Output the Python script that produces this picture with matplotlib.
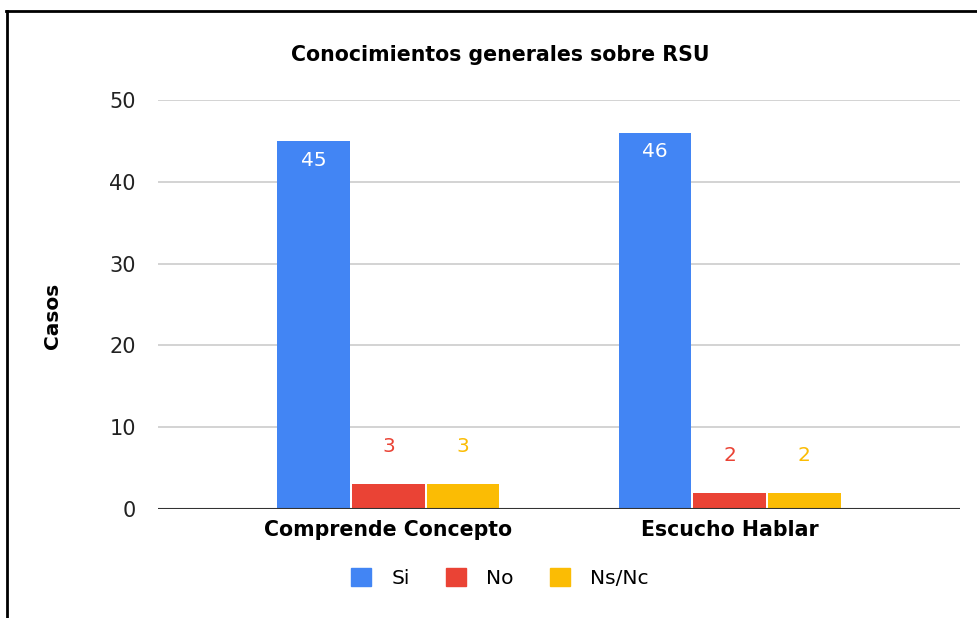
import matplotlib.pyplot as plt
import numpy as np
from matplotlib.patches import Patch
from matplotlib.lines import Line2D

plt.rcParams["font.family"] = ["DejaVu Sans"]

categories = ["Comprende Concepto", "Escucho Hablar"]
series = ["Si", "No", "Ns/Nc"]
values = {
    "Si": [45, 46],
    "No": [3, 2],
    "Ns/Nc": [3, 2],
}
colors = {"Si": "#4285f4", "No": "#ea4335", "Ns/Nc": "#fbbc04"}

fig = plt.figure(figsize=(9.78, 6.18), dpi=100)
ax = fig.add_axes([158 / 978, 1 - 509 / 618, 802 / 978, 409 / 618])

x = np.arange(len(categories))
width = 0.213
offsets = [-0.219, 0, 0.219]

for name, off in zip(series, offsets):
    bars = ax.bar(x + off, values[name], width, color=colors[name], zorder=3)
    for rect, v in zip(bars, values[name]):
        cx = rect.get_x() + rect.get_width() / 2
        if v > 10:
            ax.annotate(str(v), (cx, v), xytext=(0, -7), textcoords="offset points",
                        ha="center", va="top", color="white", fontsize=14.5)
        else:
            ax.annotate(str(v), (cx, v), xytext=(0, 27), textcoords="offset points",
                        ha="center", va="center", color=colors[name], fontsize=14.5)

ax.set_xlim(-0.675, 1.675)
ax.set_ylim(0, 50)
ax.set_yticks([0, 10, 20, 30, 40, 50])
ax.yaxis.grid(True, color="#cccccc", linewidth=1.2, zorder=0)
ax.axhline(0, color="#333333", linewidth=1.5, zorder=4)
for s in ax.spines.values():
    s.set_visible(False)
ax.tick_params(axis="y", length=0, pad=16, labelsize=15, labelcolor="#222222")
ax.tick_params(axis="x", length=0, pad=8)
ax.set_xticks(x)
ax.set_xticklabels(categories, fontsize=14.8, fontweight="bold")
ax.set_ylabel("Casos", fontsize=14.5, fontweight="bold")
ax.yaxis.set_label_coords(-0.12, 0.472)

fig.text(500 / 978, 1 - 55 / 618, "Conocimientos generales sobre RSU",
         ha="center", va="center", fontsize=14.8, fontweight="bold")

handles = [Patch(facecolor=colors[s], edgecolor=colors[s]) for s in series]
fig.legend(handles, series, loc="center", bbox_to_anchor=(500 / 978, 1 - 578 / 618),
           ncol=3, frameon=False, fontsize=14.5, handlelength=1.0, handleheight=1.0,
           columnspacing=1.8, handletextpad=1.0)

# black frame (left and top edges)
fig.add_artist(Line2D([7 / 978, 7 / 978], [0, 1 - 11 / 618], color="black",
                      linewidth=2, transform=fig.transFigure))
fig.add_artist(Line2D([6 / 978, 1], [1 - 11 / 618, 1 - 11 / 618], color="black",
                      linewidth=2, transform=fig.transFigure))

fig.savefig("out.png", dpi=100)
